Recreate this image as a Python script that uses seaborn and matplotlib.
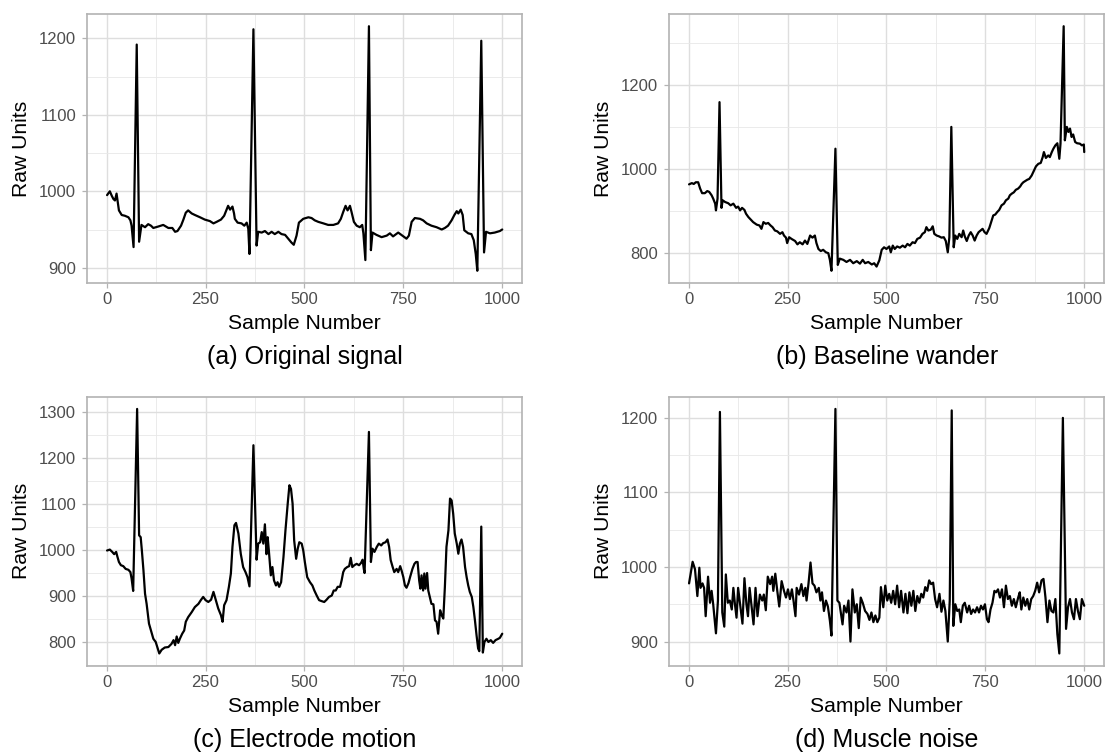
import matplotlib
matplotlib.use("Agg")
import matplotlib.pyplot as plt
from matplotlib.ticker import MultipleLocator
import pandas as pd
import seaborn as sns

# ---- ECG traces (sample number, raw units) ----
orig_x = [1, 8, 13, 17, 21, 25, 28, 31, 38, 46,
          55, 60, 63, 68, 76, 82, 88, 97, 105, 112,
          118, 131, 143, 156, 166, 173, 179, 188, 194, 200,
          206, 215, 223, 236, 248, 261, 270, 278, 289, 297,
          303, 307, 312, 318, 322, 324, 331, 341, 348, 354,
          358, 361, 371, 379, 383, 392, 400, 409, 417, 425,
          434, 442, 451, 459, 467, 473, 480, 486, 497, 510,
          518, 526, 535, 548, 560, 573, 585, 592, 598, 604,
          609, 615, 619, 625, 632, 640, 646, 649, 654, 663,
          668, 672, 682, 695, 708, 716, 724, 737, 750, 758,
          764, 771, 779, 792, 800, 809, 821, 834, 847, 855,
          863, 872, 879, 885, 889, 895, 900, 904, 914, 922,
          928, 933, 937, 947, 954, 959, 969, 981, 994, 1000]
orig_y = [995, 1000, 994, 990, 988, 997, 986, 975, 969, 968,
          966, 962, 955, 927, 1192, 934, 956, 953, 957, 955,
          952, 954, 956, 952, 952, 947, 948, 955, 963, 972,
          975, 971, 969, 966, 963, 961, 958, 960, 963, 968,
          976, 981, 976, 980, 971, 964, 959, 958, 955, 959,
          951, 918, 1212, 929, 947, 946, 948, 944, 947, 944,
          947, 944, 943, 938, 933, 930, 942, 959, 964, 966,
          965, 962, 960, 958, 956, 956, 958, 964, 973, 981,
          975, 981, 973, 960, 955, 953, 956, 945, 910, 1216,
          923, 946, 943, 940, 942, 945, 941, 946, 941, 938,
          942, 960, 965, 964, 962, 958, 955, 953, 950, 952,
          955, 962, 969, 974, 971, 976, 969, 949, 945, 944,
          936, 918, 896, 1197, 920, 947, 945, 946, 948, 950]

wander_x = [1, 8, 13, 18, 24, 29, 34, 41, 47, 52,
            58, 62, 67, 69, 73, 78, 83, 86, 92, 100,
            106, 113, 120, 125, 130, 135, 141, 145, 151, 157,
            163, 172, 179, 184, 189, 195, 201, 207, 212, 218,
            224, 231, 237, 241, 246, 249, 254, 260, 269, 275,
            281, 288, 294, 300, 307, 313, 319, 323, 328, 334,
            340, 347, 353, 357, 361, 371, 377, 382, 391, 399,
            408, 416, 425, 433, 440, 446, 454, 463, 469, 475,
            482, 488, 494, 500, 507, 511, 516, 521, 527, 534,
            541, 547, 553, 559, 566, 572, 578, 585, 591, 597,
            601, 606, 612, 617, 621, 627, 633, 639, 645, 650,
            655, 659, 664, 670, 674, 679, 684, 690, 694, 698,
            703, 708, 713, 718, 723, 728, 733, 738, 743, 748,
            753, 760, 766, 770, 775, 780, 785, 791, 797, 802,
            808, 812, 817, 822, 827, 833, 838, 842, 846, 851,
            856, 861, 867, 873, 878, 884, 890, 895, 898, 903,
            909, 913, 918, 922, 927, 932, 937, 940, 948, 951,
            956, 960, 964, 968, 972, 977, 982, 989, 994, 999,
            1000]
wander_y = [964, 967, 965, 969, 969, 954, 943, 943, 948, 946,
            938, 930, 918, 902, 930, 1160, 908, 926, 922, 919,
            914, 918, 908, 911, 902, 908, 903, 894, 886, 880,
            874, 868, 866, 858, 874, 870, 872, 866, 862, 854,
            852, 846, 850, 842, 837, 824, 838, 834, 829, 821,
            826, 821, 830, 822, 842, 837, 842, 824, 810, 805,
            808, 802, 800, 784, 758, 1049, 772, 787, 784, 779,
            784, 776, 781, 775, 784, 776, 779, 773, 776, 768,
            783, 808, 814, 810, 816, 802, 818, 810, 816, 813,
            818, 814, 822, 818, 826, 824, 834, 837, 846, 850,
            862, 854, 856, 864, 846, 842, 840, 837, 838, 829,
            802, 838, 1101, 814, 842, 834, 846, 838, 854, 840,
            829, 842, 850, 842, 830, 842, 850, 854, 858, 850,
            846, 860, 878, 890, 892, 898, 903, 914, 918, 926,
            930, 938, 942, 945, 951, 954, 959, 965, 969, 972,
            975, 977, 985, 997, 1007, 1013, 1015, 1029, 1041, 1027,
            1033, 1029, 1041, 1049, 1057, 1062, 1025, 1061, 1341, 1069,
            1101, 1089, 1097, 1077, 1083, 1065, 1062, 1061, 1057, 1059,
            1041]

motion_x = [1, 8, 14, 19, 24, 27, 31, 36, 42, 48,
            55, 60, 63, 67, 77, 82, 86, 89, 93, 97,
            101, 107, 112, 118, 124, 129, 133, 139, 147, 156,
            164, 169, 173, 177, 181, 185, 191, 196, 200, 206,
            215, 223, 232, 238, 244, 250, 257, 264, 270, 276,
            282, 289, 293, 297, 303, 309, 314, 318, 323, 327,
            333, 339, 345, 351, 356, 361, 371, 379, 383, 388,
            392, 396, 400, 404, 407, 410, 415, 419, 423, 428,
            432, 436, 441, 447, 452, 458, 462, 466, 470, 474,
            479, 483, 487, 493, 497, 501, 507, 514, 520, 525,
            531, 537, 543, 550, 556, 562, 569, 574, 579, 584,
            590, 594, 598, 602, 608, 613, 617, 621, 626, 632,
            638, 643, 647, 650, 652, 663, 668, 672, 677, 683,
            688, 694, 699, 705, 710, 714, 718, 723, 727, 733,
            737, 742, 746, 750, 754, 758, 763, 767, 773, 778,
            782, 786, 790, 793, 796, 800, 803, 806, 810, 813,
            817, 821, 826, 830, 834, 838, 843, 847, 851, 855,
            859, 864, 868, 872, 876, 880, 885, 889, 893, 897,
            901, 906, 910, 914, 918, 923, 927, 931, 935, 939,
            942, 947, 951, 955, 960, 965, 971, 977, 983, 990,
            994, 1000]
motion_y = [999, 1001, 996, 991, 996, 986, 974, 967, 965, 959,
            957, 952, 938, 911, 1307, 1032, 1028, 999, 956, 905,
            883, 840, 825, 807, 800, 786, 775, 783, 788, 789,
            796, 804, 793, 812, 798, 807, 818, 825, 844, 854,
            865, 876, 883, 891, 898, 891, 887, 892, 909, 891,
            873, 858, 844, 880, 891, 920, 949, 1007, 1054, 1059,
            1036, 992, 963, 952, 941, 921, 1228, 979, 1014, 1017,
            1039, 1014, 1056, 991, 1028, 999, 945, 963, 934, 923,
            930, 920, 930, 985, 1043, 1104, 1141, 1133, 1101, 1021,
            981, 1003, 1017, 1014, 999, 974, 941, 930, 923, 912,
            901, 891, 889, 887, 892, 898, 901, 912, 912, 920,
            920, 934, 952, 959, 963, 965, 983, 963, 967, 970,
            967, 972, 979, 959, 950, 1257, 974, 1003, 996, 1007,
            1014, 1010, 1015, 1017, 1023, 1007, 978, 963, 952, 959,
            952, 965, 954, 941, 923, 918, 928, 941, 959, 970,
            974, 974, 934, 916, 945, 912, 949, 916, 950, 912,
            898, 883, 882, 847, 844, 818, 869, 858, 851, 920,
            1007, 1043, 1112, 1108, 1079, 1036, 1014, 992, 1014, 1023,
            1007, 963, 941, 923, 909, 898, 876, 847, 815, 786,
            780, 1051, 777, 800, 807, 800, 804, 798, 804, 807,
            809, 818]

muscle_x = [1, 10, 16, 22, 27, 30, 35, 39, 43, 49,
            54, 58, 62, 69, 74, 79, 85, 90, 94, 99,
            104, 109, 113, 117, 121, 125, 131, 136, 141, 146,
            150, 154, 159, 164, 169, 174, 180, 186, 190, 195,
            200, 206, 211, 214, 219, 224, 229, 235, 241, 246,
            251, 256, 261, 265, 270, 273, 279, 285, 290, 295,
            298, 303, 308, 313, 318, 323, 329, 333, 337, 342,
            347, 352, 357, 361, 371, 376, 381, 385, 389, 393,
            399, 404, 409, 414, 420, 425, 430, 435, 440, 446,
            452, 457, 462, 467, 472, 477, 482, 486, 492, 497,
            502, 507, 512, 517, 522, 527, 532, 537, 543, 548,
            553, 558, 563, 568, 573, 578, 583, 588, 593, 598,
            603, 608, 613, 618, 623, 628, 634, 639, 644, 649,
            655, 660, 665, 669, 674, 679, 684, 688, 693, 698,
            704, 709, 714, 719, 724, 729, 734, 739, 744, 749,
            754, 758, 763, 768, 773, 777, 782, 787, 792, 797,
            802, 807, 812, 817, 822, 827, 833, 837, 841, 846,
            851, 856, 861, 866, 871, 876, 881, 886, 892, 897,
            902, 907, 912, 917, 922, 927, 932, 937, 946, 954,
            959, 964, 969, 974, 979, 984, 989, 994, 1000]
muscle_y = [978, 1007, 997, 961, 999, 972, 978, 972, 934, 987,
            952, 968, 950, 911, 955, 1208, 939, 920, 990, 952,
            955, 943, 972, 950, 932, 972, 946, 924, 985, 950,
            934, 972, 948, 923, 972, 934, 963, 955, 963, 942,
            987, 977, 987, 968, 991, 968, 947, 981, 968, 959,
            970, 957, 970, 955, 934, 972, 963, 977, 961, 972,
            955, 978, 1006, 978, 975, 966, 972, 955, 966, 941,
            955, 947, 928, 908, 1212, 955, 952, 937, 923, 948,
            939, 955, 900, 970, 939, 950, 918, 959, 952, 941,
            937, 929, 939, 926, 935, 926, 932, 973, 946, 975,
            955, 964, 952, 968, 950, 975, 946, 968, 939, 964,
            938, 966, 948, 968, 941, 961, 952, 964, 959, 973,
            968, 982, 977, 979, 957, 946, 964, 940, 955, 941,
            900, 955, 1210, 921, 950, 941, 943, 926, 948, 952,
            939, 948, 937, 943, 939, 946, 939, 948, 943, 950,
            930, 926, 943, 952, 968, 966, 970, 959, 970, 946,
            975, 957, 961, 948, 957, 946, 959, 966, 943, 959,
            948, 957, 943, 957, 961, 968, 979, 966, 982, 984,
            959, 926, 955, 941, 939, 957, 910, 884, 1200, 917,
            946, 957, 939, 930, 957, 941, 930, 957, 948]

captions = ["(a) Original signal", "(b) Baseline wander",
            "(c) Electrode motion", "(d) Muscle noise"]
y_major = [100, 200, 100, 100]
x_major = 250

# ---- styling ----
sns.set_theme(style="whitegrid")
plt.rcParams["font.family"] = ["Liberation Sans", "DejaVu Sans"]

W, H = 1107, 754
fig = plt.figure(figsize=(W / 100, H / 100), dpi=100)

# panel boxes in pixels: left, top; shared width/height
pw, ph = 434.7, 269.0
boxes = [(87.3, 14.0), (669.3, 14.0), (87.3, 396.7), (669.3, 396.7)]

series = [(orig_x, orig_y), (wander_x, wander_y),
          (motion_x, motion_y), (muscle_x, muscle_y)]

for (left, top), (xs, ys), cap, ymaj in zip(boxes, series, captions, y_major):
    ax = fig.add_axes([left / W, 1 - (top + ph) / H, pw / W, ph / H])
    df = pd.DataFrame({"Sample Number": xs, "Raw Units": ys})
    sns.lineplot(data=df, x="Sample Number", y="Raw Units", ax=ax,
                 color="black", linewidth=1.6, estimator=None)
    ax.margins(x=0.05, y=0.05)

    ax.set_facecolor("white")
    ax.xaxis.set_major_locator(MultipleLocator(x_major))
    ax.xaxis.set_minor_locator(MultipleLocator(x_major / 2))
    ax.yaxis.set_major_locator(MultipleLocator(ymaj))
    ax.yaxis.set_minor_locator(MultipleLocator(ymaj / 2))
    ax.grid(True, which="major", color="#DEDEDE", linewidth=1.0)
    ax.grid(True, which="minor", color="#E8E8E8", linewidth=0.6)
    ax.set_axisbelow(True)

    for sp in ax.spines.values():
        sp.set_visible(True)
        sp.set_color("#B3B3B3")
        sp.set_linewidth(1.2)

    ax.tick_params(which="major", length=3.5, width=0.9, color="#B3B3B3",
                   labelcolor="#4D4D4D", labelsize=12)
    ax.tick_params(axis="x", which="major", pad=3.2, bottom=True)
    ax.tick_params(axis="y", which="major", pad=4.6, left=True)
    ax.tick_params(which="minor", length=0)

    ax.set_xlabel("Sample Number", fontsize=15.2, color="black")
    ax.set_ylabel("Raw Units", fontsize=15.2, color="black")
    ax.xaxis.label.set_va("center")
    ax.yaxis.label.set_va("center")
    ax.xaxis.set_label_coords(0.5, -40.3 / ph)
    ax.yaxis.set_label_coords(-66.0 / pw, 0.5)

    fig.text((left + pw / 2) / W, 1 - (top + ph + 74.3) / H, cap,
             ha="center", va="center", fontsize=18, color="black")

fig.savefig("out.png", dpi=100, facecolor="white")
